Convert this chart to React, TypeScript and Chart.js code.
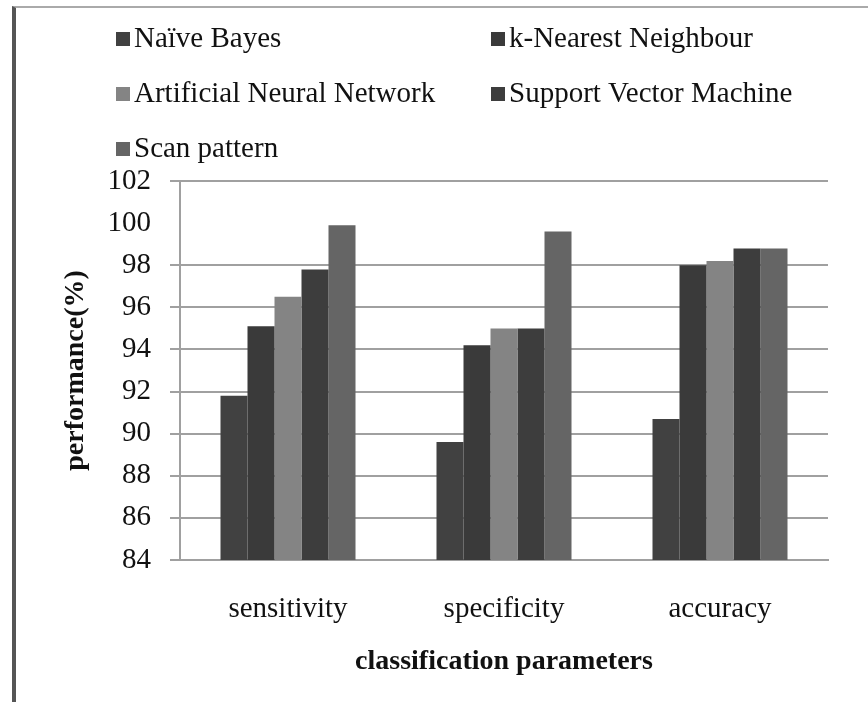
import React, { useEffect, useRef } from "react";
import { Chart, registerables } from "chart.js";

Chart.register(...registerables);

const categories = ["sensitivity", "specificity", "accuracy"];
const seriesNames = [
  "Naïve Bayes",
  "k-Nearest Neighbour",
  "Artificial Neural Network",
  "Support Vector Machine",
  "Scan pattern",
];
const naiveBayes = [91.8, 89.6, 90.7];
const kNearest = [95.1, 94.2, 98.0];
const annValues = [96.5, 95.0, 98.2];
const svmValues = [97.8, 95.0, 98.8];
const scanPattern = [99.9, 99.6, 98.8];
const seriesColors = ["#414141", "#3a3a3a", "#848484", "#3d3d3d", "#656565"];
const yMin = 84;
const yMax = 102;
const yStep = 2;
const yAxisTitle = "performance(%)";
const xAxisTitle = "classification parameters";

const SERIF = "'Liberation Serif', 'Times New Roman', serif";

// legend layout: two columns, three rows
const legendCols = [116, 491];
const legendRows = [47, 102, 157];

const legendPlugin = {
  id: "gridLegend",
  afterDraw(chart: any) {
    const ctx = chart.ctx;
    ctx.save();
    ctx.font = `29px ${SERIF}`;
    ctx.textBaseline = "alphabetic";
    ctx.textAlign = "left";
    chart.data.datasets.forEach((ds: any, i: number) => {
      const col = i % 2;
      const row = Math.floor(i / 2);
      const x = legendCols[col];
      const y = legendRows[row];
      ctx.fillStyle = ds.backgroundColor;
      ctx.fillRect(x, y - 15, 14, 14);
      ctx.fillStyle = "#111";
      ctx.fillText(ds.label, x + 18, y);
    });
    ctx.restore();
  },
};

export default function App() {
  const ref = useRef<HTMLCanvasElement | null>(null);
  useEffect(() => {
    if (!ref.current) return;
    const data = [naiveBayes, kNearest, annValues, svmValues, scanPattern];
    const chart = new Chart(ref.current, {
      type: "bar",
      data: {
        labels: categories,
        datasets: seriesNames.map((name, i) => ({
          label: name,
          data: data[i],
          backgroundColor: seriesColors[i],
          borderWidth: 0,
          barPercentage: 1,
          categoryPercentage: 0.625,
        })),
      },
      options: {
        responsive: false,
        animation: false,
        layout: { padding: { left: 50, top: 181, right: 40, bottom: 0 } },
        plugins: {
          legend: { display: false },
          tooltip: { enabled: false },
        },
        scales: {
          x: {
            grid: { display: false },
            border: { display: true, color: "#a0a0a0", width: 2 },
            ticks: {
              color: "#111",
              font: { family: SERIF, size: 29 },
              padding: 24,
            },
            title: {
              display: true,
              text: xAxisTitle,
              color: "#111",
              font: { family: SERIF, size: 28, weight: "bold" },
              padding: { top: 0, bottom: 23 },
            },
            afterFit: (s: any) => {
              s.height = 142;
            },
          },
          y: {
            min: yMin,
            max: yMax,
            ticks: {
              stepSize: yStep,
              color: "#111",
              font: { family: SERIF, size: 29 },
              padding: 19,
            },
            grid: {
              color: (c: any) =>
                c.tick && c.tick.value === 100 ? "rgba(0,0,0,0)" : "#a0a0a0",
              lineWidth: 2,
              tickLength: 10,
            },
            border: { display: true, color: "#a0a0a0", width: 2 },
            title: {
              display: true,
              text: yAxisTitle,
              color: "#111",
              font: { family: SERIF, size: 28, weight: "bold" },
              padding: { top: 9, bottom: 0 },
            },
            afterFit: (s: any) => {
              s.width = 130;
            },
          },
        },
      },
      plugins: [legendPlugin],
    });
    return () => chart.destroy();
  }, []);

  return (
    <div
      style={{
        position: "absolute",
        left: 0,
        top: 0,
        width: 868,
        height: 702,
        background: "#fff",
        overflow: "hidden",
      }}
    >
      <div
        style={{
          position: "absolute",
          left: 12,
          top: 6,
          width: 900,
          height: 800,
          borderLeft: "4px solid #555",
          borderTop: "2px solid #aaa",
        }}
      />
      <canvas
        ref={ref}
        width={868}
        height={702}
        style={{ position: "absolute", left: 0, top: 0 }}
      />
    </div>
  );
}
